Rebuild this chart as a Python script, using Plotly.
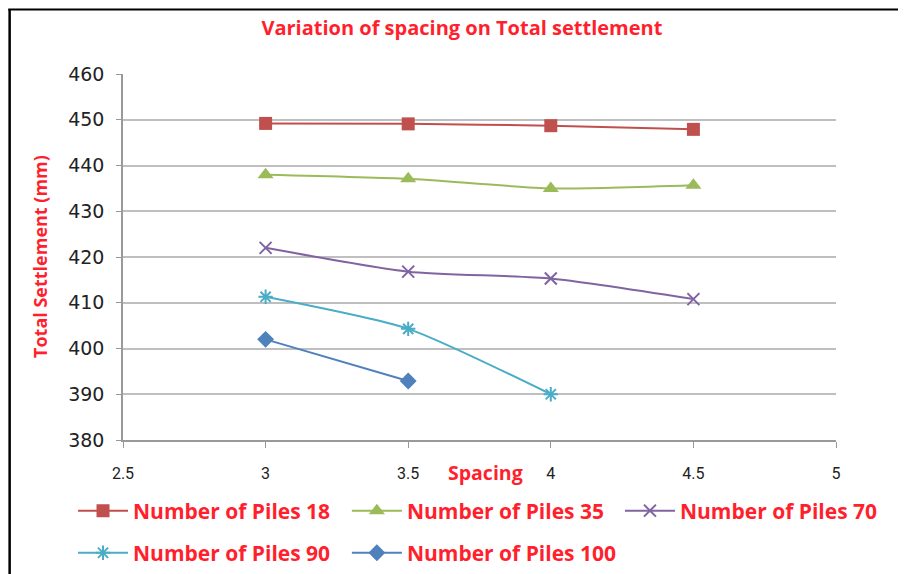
"""
Variation of spacing on total settlement - pile groups
"""
import plotly.graph_objects as go

# Data
spacing = [3, 3.5, 4, 4.5]
piles_18 = [449.2, 449.1, 448.7, 447.9]
piles_35 = [438.0, 437.1, 435.0, 435.7]
piles_70 = [422.0, 416.8, 415.3, 410.8]
piles_90 = [411.3, 404.3, 390.0]
piles_100 = [402.0, 392.9]

x_ticks = [2.5, 3, 3.5, 4, 4.5, 5]
x_tick_labels = ["2.5", "3", "3.5", "4", "4.5", "5"]
y_ticks = [380, 390, 400, 410, 420, 430, 440, 450, 460]

RED_TEXT = "#FF1F2D"
FONT = "Open Sans, sans-serif"

# name, x, y, colour, marker, legend slot (one legend per slot, placed like Excel's)
series = [
    ("Number of Piles 18", spacing, piles_18, "#C0504D", dict(symbol="square", size=13), "legend"),
    ("Number of Piles 35", spacing, piles_35, "#9BBB59", dict(symbol="triangle-up", size=14), "legend2"),
    ("Number of Piles 70", spacing, piles_70, "#8064A2",
     dict(symbol="x-thin", size=12, line=dict(width=2, color="#8064A2")), "legend3"),
    ("Number of Piles 90", spacing[:3], piles_90, "#4BACC6",
     dict(symbol="asterisk", size=12, line=dict(width=2, color="#4BACC6")), "legend4"),
    ("Number of Piles 100", spacing[:2], piles_100, "#4F81BD", dict(symbol="diamond", size=13), "legend5"),
]

fig = go.Figure()
for name, xs, ys, color, marker, leg in series:
    fig.add_trace(go.Scatter(
        x=xs, y=ys, name=name, mode="lines+markers",
        line=dict(color=color, width=2, shape="spline", smoothing=0.6),
        marker=dict(color=color, **marker),
        legend=leg,
    ))

legend_style = dict(
    orientation="h", xanchor="left", yanchor="middle",
    font=dict(family=FONT, size=21, color=RED_TEXT, weight="bold"),
    bgcolor="rgba(0,0,0,0)", itemwidth=50,
)
col_x = [-0.0701, 0.314, 0.697]
row_y = [-0.194, -0.309]

# the page body has an 8px margin, so the margins are shifted by 8px
fig.update_layout(
    width=906, height=574,
    margin=dict(l=115, r=78, t=66, b=142, autoexpand=False),
    paper_bgcolor="white", plot_bgcolor="white",
    title=dict(text="Variation of spacing on Total settlement", x=0.501, xanchor="center",
               y=0.965, yanchor="middle",
               font=dict(family=FONT, size=20, color=RED_TEXT, weight="bold")),
    legend=dict(x=col_x[0], y=row_y[0], **legend_style),
    legend2=dict(x=col_x[1], y=row_y[0], **legend_style),
    legend3=dict(x=col_x[2], y=row_y[0], **legend_style),
    legend4=dict(x=col_x[0], y=row_y[1], **legend_style),
    legend5=dict(x=col_x[1], y=row_y[1], **legend_style),
    showlegend=True,
)

fig.update_xaxes(
    range=[2.5, 5], tickvals=x_ticks, ticktext=x_tick_labels,
    showgrid=False, zeroline=False, automargin=False,
    showline=True, linecolor="#999999", linewidth=1.5,
    ticks="outside", ticklen=6, tickcolor="#999999", ticklabelstandoff=12,
    tickfont=dict(family="Roboto, sans-serif", size=16, color="#222222"),
)
fig.update_yaxes(
    range=[380, 460], tickvals=y_ticks,
    showgrid=True, gridcolor="#BFBFBF", gridwidth=2, zeroline=False, automargin=False,
    showline=True, linecolor="#999999", linewidth=1.5,
    ticks="outside", ticklen=5, tickcolor="#999999", ticklabelstandoff=8,
    tickfont=dict(family="DejaVu Sans, Verdana, sans-serif", size=19, color="#222222"),
)

fig.add_annotation(text="Total Settlement (mm)", xref="paper", yref="paper", x=-0.1164, y=0.5,
                   xanchor="center", yanchor="middle", textangle=-90, showarrow=False,
                   font=dict(family=FONT, size=18, color=RED_TEXT, weight="bold"))
fig.add_annotation(text="Spacing", xref="x", yref="paper", x=3.77, y=-0.09,
                   xanchor="center", yanchor="middle", showarrow=False,
                   font=dict(family=FONT, size=19.5, color=RED_TEXT, weight="bold"))

# black frame edges at the top and the left
fig.add_shape(type="line", xref="paper", yref="paper", x0=-0.161, x1=1.12, y0=1.176, y1=1.176,
              line=dict(color="black", width=2))
fig.add_shape(type="line", xref="paper", yref="paper", x0=-0.159, x1=-0.159, y0=1.176, y1=-0.4,
              line=dict(color="black", width=2.5))

fig.write_html("out.html")
